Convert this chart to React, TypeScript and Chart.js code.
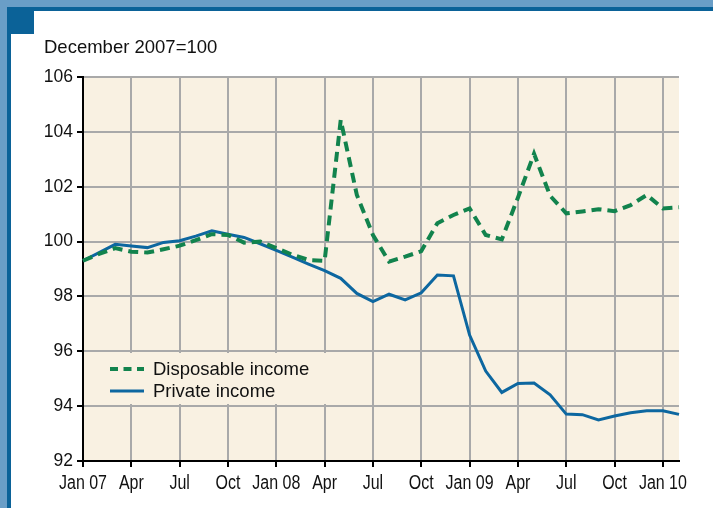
import React, { useEffect, useRef } from "react";
import { Chart, registerables } from "chart.js";

Chart.register(...registerables);

const categories = [
  "Jan 07", "Feb", "Mar", "Apr", "May", "Jun", "Jul", "Aug", "Sep", "Oct", "Nov", "Dec",
  "Jan 08", "Feb", "Mar", "Apr", "May", "Jun", "Jul", "Aug", "Sep", "Oct", "Nov", "Dec",
  "Jan 09", "Feb", "Mar", "Apr", "May", "Jun", "Jul", "Aug", "Sep", "Oct", "Nov", "Dec",
  "Jan 10", "Feb",
];

const disposableIncome = [
  99.3, 99.55, 99.76, 99.63, 99.6, 99.72, 99.85, 100.05, 100.27, 100.24, 99.96, 100.0,
  99.76, 99.52, 99.33, 99.3, 104.43, 101.7, 100.24, 99.27, 99.45, 99.65, 100.67, 100.97,
  101.21, 100.24, 100.08, 101.6, 103.2, 101.67, 101.03, 101.1, 101.18, 101.11, 101.33, 101.7,
  101.21, 101.25,
];

const privateIncome = [
  99.3, 99.6, 99.9, 99.84, 99.78, 99.97, 100.03, 100.2, 100.39, 100.27, 100.15, 99.92,
  99.68, 99.43, 99.18, 98.94, 98.66, 98.11, 97.81, 98.08, 97.87, 98.13, 98.78, 98.75,
  96.59, 95.28, 94.5, 94.83, 94.84, 94.41, 93.71, 93.69, 93.5, 93.64, 93.76, 93.83,
  93.83, 93.7,
];

const seriesNames = ["Disposable income", "Private income"];
const yTitle = "December 2007=100";

const GREEN = "#12834d";
const BLUE = "#0d67a0";
const CREAM = "#f9f1e2";
const GRID = "#a9a9a9";
const LIGHT_BLUE = "#6a9ec7";
const DARK_BLUE = "#0b6298";
const SANS = "'Liberation Sans', Arial, Helvetica, sans-serif";

const framePlugin = {
  id: "frame",
  beforeDraw(chart: any) {
    const { ctx, width, height, chartArea } = chart;
    ctx.save();
    ctx.fillStyle = "#ffffff";
    ctx.fillRect(0, 0, width, height);
    ctx.fillStyle = LIGHT_BLUE;
    ctx.fillRect(0, 0, width, 7);
    ctx.fillRect(0, 0, 7, height);
    ctx.fillStyle = DARK_BLUE;
    ctx.fillRect(7, 7, width - 7, 4);
    ctx.fillRect(7, 7, 4, height - 7);
    ctx.fillRect(7, 7, 27, 27);
    ctx.fillStyle = CREAM;
    ctx.fillRect(chartArea.left, chartArea.top, chartArea.right - chartArea.left, chartArea.bottom - chartArea.top);
    ctx.fillStyle = "#111111";
    ctx.font = `18.5px ${SANS}`;
    ctx.textBaseline = "alphabetic";
    ctx.textAlign = "left";
    ctx.fillText(yTitle, 44, 53);
    ctx.restore();
  },
  beforeDatasetsDraw(chart: any) {
    const { ctx, chartArea } = chart;
    ctx.save();
    ctx.fillStyle = CREAM;
    ctx.fillRect(chartArea.left + 1, 353, 262, 51);
    const rows = [
      { y: 369, color: GREEN, dash: [8, 5.5], width: 4 },
      { y: 391, color: BLUE, dash: [], width: 3 },
    ];
    rows.forEach((r, i) => {
      ctx.beginPath();
      ctx.setLineDash(r.dash);
      ctx.strokeStyle = r.color;
      ctx.lineWidth = r.width;
      ctx.moveTo(110, r.y);
      ctx.lineTo(144, r.y);
      ctx.stroke();
      ctx.setLineDash([]);
      ctx.fillStyle = "#111111";
      ctx.font = `18.5px ${SANS}`;
      ctx.textBaseline = "middle";
      ctx.textAlign = "left";
      ctx.fillText(seriesNames[i], 153, r.y + 1);
    });
    ctx.restore();
  },
  afterDraw(chart: any) {
    const { ctx } = chart;
    const xScale = chart.scales.x;
    const sx = 0.82;
    ctx.save();
    ctx.fillStyle = "#111111";
    ctx.font = `19.5px ${SANS}`;
    ctx.textBaseline = "alphabetic";
    ctx.textAlign = "center";
    ctx.scale(sx, 1);
    xScale.ticks.forEach((t: any) => {
      const x = xScale.getPixelForValue(t.value);
      ctx.fillText(categories[t.value], x / sx, 489);
    });
    ctx.restore();
  },
};

export default function App() {
  const canvasRef = useRef<HTMLCanvasElement | null>(null);

  useEffect(() => {
    if (!canvasRef.current) return;
    const chart = new Chart(canvasRef.current, {
      type: "line",
      data: {
        labels: categories,
        datasets: [
          {
            label: seriesNames[0],
            data: disposableIncome,
            borderColor: GREEN,
            borderWidth: 4,
            borderDash: [10, 6],
            pointRadius: 0,
            tension: 0,
            fill: false,
          },
          {
            label: seriesNames[1],
            data: privateIncome,
            borderColor: BLUE,
            borderWidth: 3,
            pointRadius: 0,
            tension: 0,
            fill: false,
          },
        ],
      },
      options: {
        animation: false,
        responsive: false,
        devicePixelRatio: 1,
        layout: { padding: { left: 0, top: 77, right: 34, bottom: 0 } },
        plugins: {
          legend: { display: false },
          title: { display: false },
          tooltip: { enabled: false },
        },
        scales: {
          x: {
            type: "category",
            offset: false,
            afterBuildTicks: (scale: any) => {
              scale.ticks = scale.ticks.filter((t: any) => t.value % 3 === 0);
            },
            afterFit: (scale: any) => {
              scale.height = 47;
            },
            grid: {
              color: GRID,
              lineWidth: 2,
              tickColor: "#000000",
              tickLength: 6,
              tickWidth: 2,
            },
            border: { color: "#000000", width: 2 },
            ticks: {
              display: false,
              autoSkip: false,
              maxRotation: 0,
            },
          },
          y: {
            min: 92,
            max: 106,
            afterFit: (scale: any) => {
              scale.width = 83;
            },
            grid: {
              color: GRID,
              lineWidth: 2,
              tickColor: "#000000",
              tickLength: 6,
              tickWidth: 2,
            },
            border: { color: "#000000", width: 2 },
            ticks: {
              stepSize: 2,
              padding: 4,
              color: "#111111",
              font: { family: SANS, size: 17.5 },
            },
          },
        },
      },
      plugins: [framePlugin],
    });
    return () => chart.destroy();
  }, []);

  return (
    <div style={{ position: "fixed", left: 0, top: 0, width: 713, height: 508, background: "#fff" }}>
      <canvas ref={canvasRef} width={713} height={508} style={{ display: "block", width: 713, height: 508 }} />
    </div>
  );
}
